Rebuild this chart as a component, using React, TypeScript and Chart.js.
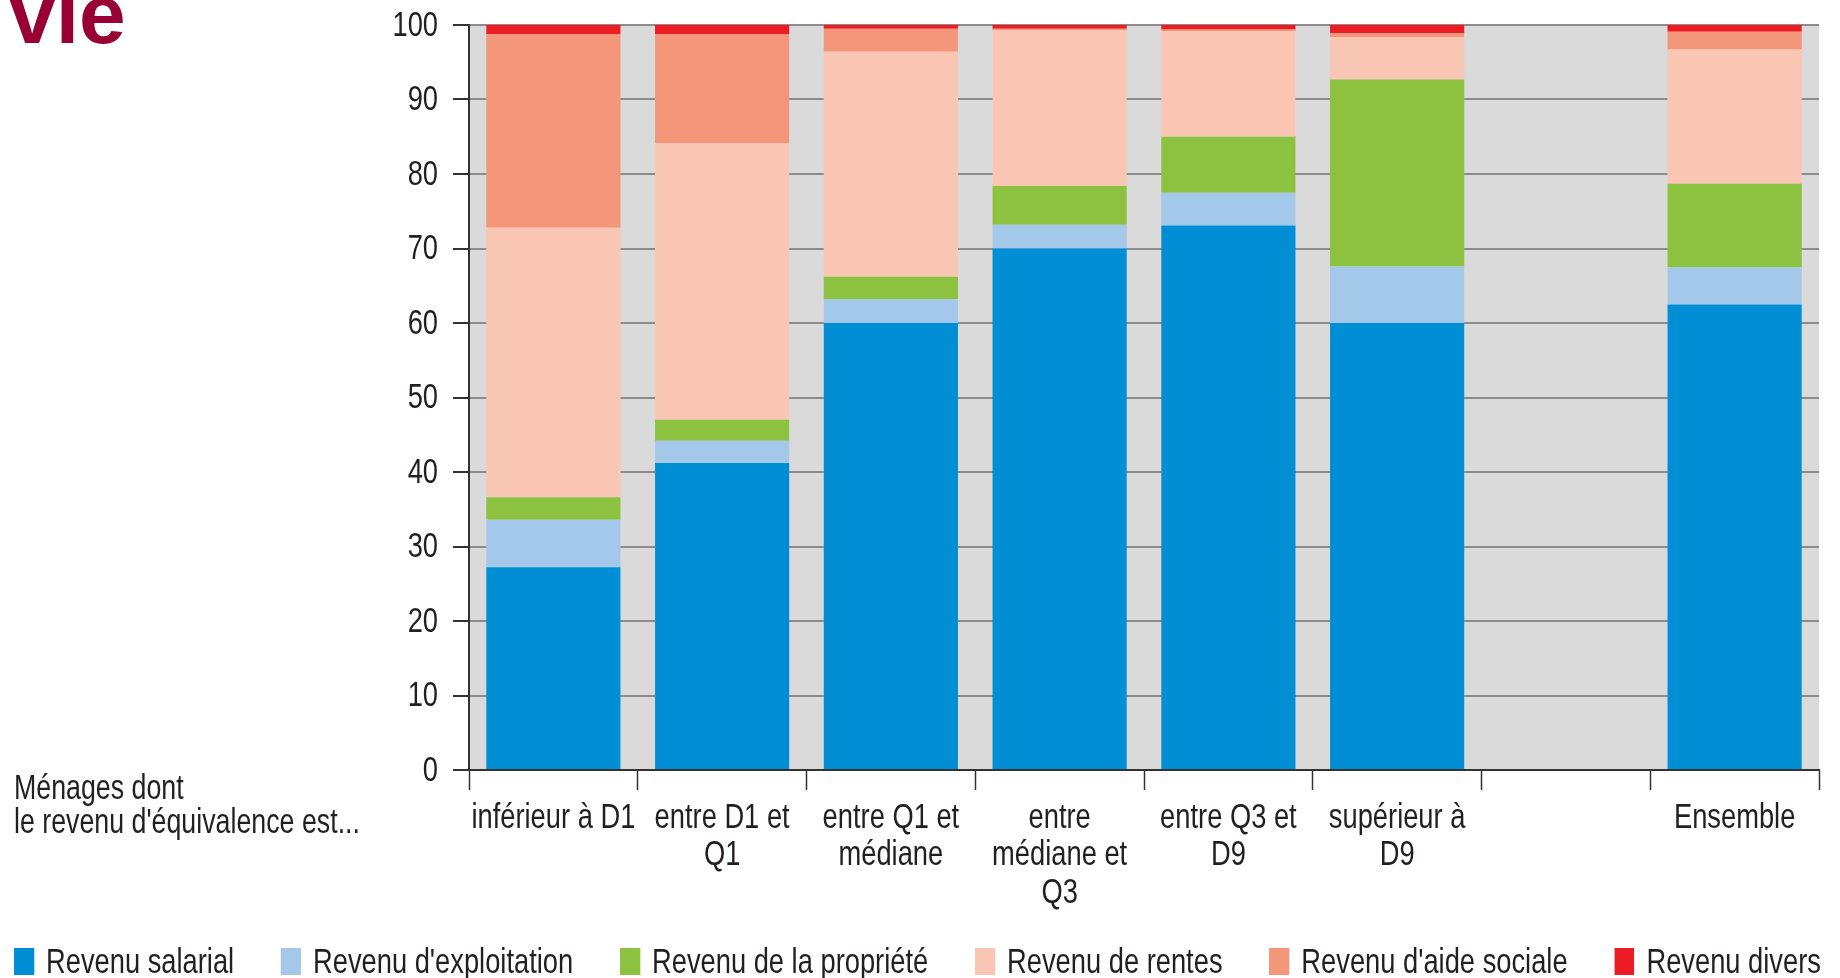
import React, { useEffect, useRef } from 'react';
import { Chart, registerables } from 'chart.js';

Chart.register(...registerables);

// ---- Data ----
const categories: string[][] = [
  ['inférieur à D1'],
  ['entre D1 et', 'Q1'],
  ['entre Q1 et', 'médiane'],
  ['entre', 'médiane et', 'Q3'],
  ['entre Q3 et', 'D9'],
  ['supérieur à', 'D9'],
  [''],
  ['Ensemble'],
];

const revenuSalarial = [27.2, 41.2, 60.0, 70.0, 73.1, 60.0, null, 62.5];
const revenuExploitation = [6.4, 3.0, 3.2, 3.2, 4.4, 7.6, null, 5.0];
const revenuPropriete = [3.0, 2.8, 3.0, 5.2, 7.5, 25.1, null, 11.2];
const revenuRentes = [36.2, 37.1, 30.2, 20.9, 14.2, 5.7, null, 18.0];
const revenuAideSociale = [26.0, 14.7, 3.1, 0.2, 0.2, 0.5, null, 2.4];
const revenuDivers = [1.2, 1.2, 0.5, 0.5, 0.6, 1.1, null, 0.9];

const seriesNames = [
  'Revenu salarial',
  "Revenu d'exploitation",
  'Revenu de la propriété',
  'Revenu de rentes',
  "Revenu d'aide sociale",
  'Revenu divers',
];
const seriesColors = ['#008fd5', '#a3c8ea', '#8cc23f', '#f9c6b3', '#f49679', '#ec1c24'];

const yMin = 0;
const yMax = 100;
const yStep = 10;

const titleText = 'vie';
const noteLines = ['Ménages dont', "le revenu d'équivalence est..."];

// ---- Styles ----
const FONT = "'Liberation Sans', Arial, sans-serif";
const TEXT_COLOR = '#231f20';
const LABEL_SIZE = 35;
const NARROW = 0.78; // horizontal condensing to mimic a narrow typeface

const plotBackground = {
  id: 'plotBackground',
  beforeDraw(chart: any) {
    const { ctx, chartArea } = chart;
    if (!chartArea) return;
    ctx.save();
    ctx.fillStyle = '#dadada';
    ctx.fillRect(chartArea.left, chartArea.top, chartArea.right - chartArea.left, chartArea.bottom - chartArea.top);
    ctx.restore();
  },
};

const narrowLabels = {
  id: 'narrowLabels',
  afterDraw(chart: any) {
    const { ctx } = chart;
    const xs = chart.scales.x;
    const ys = chart.scales.y;
    ctx.save();
    ctx.fillStyle = TEXT_COLOR;
    ctx.font = `${LABEL_SIZE}px ${FONT}`;
    ctx.textBaseline = 'middle';
    // y-axis labels
    ctx.textAlign = 'right';
    ys.ticks.forEach((t: any, i: number) => {
      const y = ys.getPixelForTick(i);
      ctx.save();
      ctx.translate(ys.right - 16 - 15, y + 1);
      ctx.scale(NARROW, 1);
      ctx.fillText(String(t.value), 0, 0);
      ctx.restore();
    });
    // x-axis labels
    ctx.textAlign = 'center';
    (chart.data.labels as any[]).forEach((lbl: any, i: number) => {
      const x = xs.getPixelForTick(i);
      const lines = Array.isArray(lbl) ? lbl : [lbl];
      lines.forEach((ln: string, j: number) => {
        ctx.save();
        ctx.translate(x, xs.top + 48 + j * 37.5);
        ctx.scale(NARROW, 1);
        ctx.fillText(ln, 0, 0);
        ctx.restore();
      });
    });
    ctx.restore();
  },
};

export default function App() {
  const canvasRef = useRef<HTMLCanvasElement | null>(null);

  useEffect(() => {
    const canvas = canvasRef.current;
    if (!canvas) return;
    const allSeries = [
      revenuSalarial,
      revenuExploitation,
      revenuPropriete,
      revenuRentes,
      revenuAideSociale,
      revenuDivers,
    ];
    const chart = new Chart(canvas, {
      type: 'bar',
      data: {
        labels: categories,
        datasets: allSeries.map((d, i) => ({
          label: seriesNames[i],
          data: d,
          backgroundColor: seriesColors[i],
          borderWidth: 0,
          categoryPercentage: 1,
          barPercentage: 0.795,
        })),
      },
      options: {
        responsive: false,
        animation: false,
        devicePixelRatio: 1,
        layout: { padding: { left: 0, top: 25, right: 21, bottom: 88 } },
        plugins: {
          legend: { display: false },
          tooltip: { enabled: false },
          title: { display: false },
        },
        scales: {
          x: {
            stacked: true,
            offset: true,
            grid: {
              offset: true,
              drawOnChartArea: false,
              drawTicks: true,
              tickLength: 20,
              tickColor: '#333333',
              tickWidth: 1.5,
            },
            border: { display: true, color: '#333333', width: 2 },
            ticks: { display: false, autoSkip: false, maxRotation: 0, minRotation: 0 },
            afterFit: (s: any) => {
              s.height = 120;
            },
          },
          y: {
            stacked: true,
            min: yMin,
            max: yMax,
            grid: {
              color: '#8c8c8c',
              lineWidth: 2,
              drawTicks: true,
              tickLength: 16,
              tickColor: '#333333',
              tickWidth: 2,
            },
            border: { display: true, color: '#333333', width: 2 },
            ticks: { display: false, stepSize: yStep },
            afterFit: (s: any) => {
              s.width = 469;
            },
          },
        },
      },
      plugins: [plotBackground, narrowLabels],
    });
    return () => chart.destroy();
  }, []);

  return (
    <div
      style={{
        position: 'fixed',
        left: 0,
        top: 0,
        width: 1840,
        height: 978,
        background: '#ffffff',
        overflow: 'hidden',
      }}
    >
      <canvas
        ref={canvasRef}
        width={1840}
        height={978}
        style={{ position: 'absolute', left: 0, top: 0, width: 1840, height: 978 }}
      />
      <div
        style={{
          position: 'absolute',
          left: 9,
          top: -28,
          fontFamily: FONT,
          fontWeight: 'bold',
          fontSize: 84,
          lineHeight: '84px',
          color: '#990033',
        }}
      >
        {titleText}
      </div>
      <div
        style={{
          position: 'absolute',
          left: 14,
          top: 770,
          fontFamily: FONT,
          fontSize: LABEL_SIZE,
          lineHeight: '34px',
          color: TEXT_COLOR,
          transform: 'scaleX(0.765)',
          transformOrigin: 'left top',
          whiteSpace: 'nowrap',
        }}
      >
        {noteLines.map((l, i) => (
          <div key={i}>{l}</div>
        ))}
      </div>
      <div
        style={{
          position: 'absolute',
          left: 14,
          top: 944,
          width: 1807 / NARROW,
          height: 34,
          display: 'flex',
          justifyContent: 'space-between',
          alignItems: 'center',
          fontFamily: FONT,
          fontSize: LABEL_SIZE,
          lineHeight: '34px',
          color: TEXT_COLOR,
          transform: `scaleX(${NARROW})`,
          transformOrigin: 'left center',
        }}
      >
        {seriesNames.map((n, i) => (
          <div key={i} style={{ display: 'flex', alignItems: 'center' }}>
            <span
              style={{
                display: 'inline-block',
                width: 20 / NARROW,
                height: 27,
                background: seriesColors[i],
                marginRight: 12 / NARROW,
              }}
            />
            <span style={{ whiteSpace: 'nowrap' }}>{n}</span>
          </div>
        ))}
      </div>
    </div>
  );
}
